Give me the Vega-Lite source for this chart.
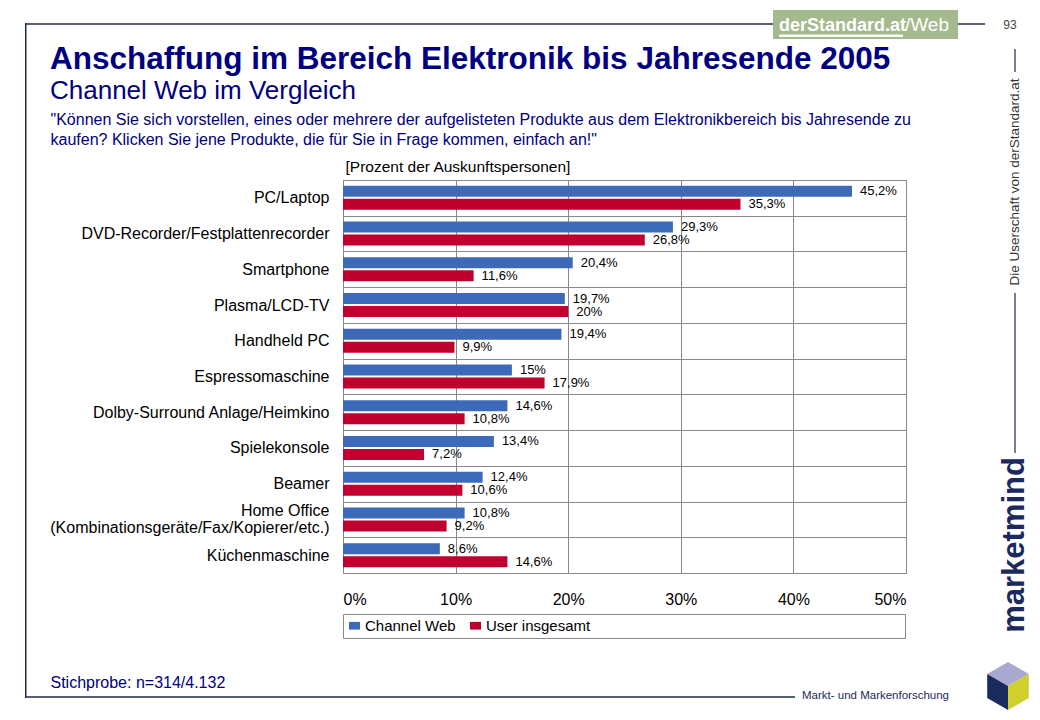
{
  "$schema": "https://vega.github.io/schema/vega-lite/v6.json",
  "width": 563,
  "height": 393,
  "autosize": {"type": "none"},
  "padding": {"left": 343, "top": 180, "right": 134, "bottom": 147},
  "background": "white",
  "title": {
    "text": "Anschaffung im Bereich Elektronik bis Jahresende 2005",
    "subtitle": "Channel Web im Vergleich",
    "anchor": "start",
    "frame": "group",
    "dx": -293,
    "dy": 94,
    "offset": 0,
    "font": "Liberation Sans",
    "fontSize": 31.5,
    "fontWeight": "bold",
    "color": "#000080",
    "subtitleFont": "Liberation Sans",
    "subtitleFontSize": 26,
    "subtitleColor": "#000080",
    "subtitlePadding": 3
  },
  "data": {
    "values": [
      {"Produkt": "PC/Laptop", "Serie": "Channel Web", "Wert": 0.452},
      {"Produkt": "PC/Laptop", "Serie": "User insgesamt", "Wert": 0.353},
      {"Produkt": "DVD-Recorder/Festplattenrecorder", "Serie": "Channel Web", "Wert": 0.293},
      {"Produkt": "DVD-Recorder/Festplattenrecorder", "Serie": "User insgesamt", "Wert": 0.268},
      {"Produkt": "Smartphone", "Serie": "Channel Web", "Wert": 0.204},
      {"Produkt": "Smartphone", "Serie": "User insgesamt", "Wert": 0.116},
      {"Produkt": "Plasma/LCD-TV", "Serie": "Channel Web", "Wert": 0.197},
      {"Produkt": "Plasma/LCD-TV", "Serie": "User insgesamt", "Wert": 0.2},
      {"Produkt": "Handheld PC", "Serie": "Channel Web", "Wert": 0.194},
      {"Produkt": "Handheld PC", "Serie": "User insgesamt", "Wert": 0.099},
      {"Produkt": "Espressomaschine", "Serie": "Channel Web", "Wert": 0.15},
      {"Produkt": "Espressomaschine", "Serie": "User insgesamt", "Wert": 0.179},
      {"Produkt": "Dolby-Surround Anlage/Heimkino", "Serie": "Channel Web", "Wert": 0.146},
      {"Produkt": "Dolby-Surround Anlage/Heimkino", "Serie": "User insgesamt", "Wert": 0.108},
      {"Produkt": "Spielekonsole", "Serie": "Channel Web", "Wert": 0.134},
      {"Produkt": "Spielekonsole", "Serie": "User insgesamt", "Wert": 0.072},
      {"Produkt": "Beamer", "Serie": "Channel Web", "Wert": 0.124},
      {"Produkt": "Beamer", "Serie": "User insgesamt", "Wert": 0.106},
      {"Produkt": "Home Office (Kombinationsgeräte/Fax/Kopierer/etc.)", "Serie": "Channel Web", "Wert": 0.108},
      {"Produkt": "Home Office (Kombinationsgeräte/Fax/Kopierer/etc.)", "Serie": "User insgesamt", "Wert": 0.092},
      {"Produkt": "Küchenmaschine", "Serie": "Channel Web", "Wert": 0.086},
      {"Produkt": "Küchenmaschine", "Serie": "User insgesamt", "Wert": 0.146}
    ]
  },
  "layer": [
    {
      "mark": {"type": "bar"},
      "encoding": {
        "y": {
          "field": "Produkt", "type": "nominal", "sort": null,
          "scale": {"paddingInner": 0, "paddingOuter": 0},
          "axis": {
            "title": ["\"Können Sie sich vorstellen, eines oder mehrere der aufgelisteten Produkte aus dem Elektronikbereich bis Jahresende zu", "kaufen? Klicken Sie jene Produkte, die für Sie in Frage kommen, einfach an!\""],
            "titleAngle": 0, "titleAlign": "left", "titleBaseline": "alphabetic",
            "titleX": -293, "titleY": -56, "titleLineHeight": 20,
            "titleFontSize": 16, "titleFontWeight": "normal", "titleColor": "#000080",
            "labelExpr": "datum.value == 'Home Office (Kombinationsgeräte/Fax/Kopierer/etc.)' ? ['Home Office', '(Kombinationsgeräte/Fax/Kopierer/etc.)'] : datum.label",
            "labelOffset": {"condition": {"test": "datum.value == 'Home Office (Kombinationsgeräte/Fax/Kopierer/etc.)'", "value": -9}, "value": 0},
            "labelFontSize": 16, "labelColor": "#000000", "labelPadding": 14, "labelLimit": 400, "labelLineHeight": 17,
            "ticks": false, "domain": false, "grid": true, "tickBand": "extent", "gridColor": "#888888", "gridWidth": 1
          }
        },
        "yOffset": {"field": "Serie", "type": "nominal", "sort": ["Channel Web", "User insgesamt"], "scale": {"paddingInner": 0.154, "paddingOuter": 0.45}},
        "x": {
          "field": "Wert", "type": "quantitative",
          "scale": {"domain": [0, 0.5], "nice": false},
          "axis": {
            "orient": "bottom", "values": [0, 0.1, 0.2, 0.3, 0.4, 0.5], "format": ".0%",
            "labelFontSize": 16, "labelColor": "#000000", "labelPadding": 18, "ticks": false, "domain": false,
            "grid": true, "gridColor": "#888888", "gridWidth": 1,
            "title": "Stichprobe: n=314/4.132", "titleX": -293, "titleY": 114, "titleAlign": "left", "titleBaseline": "alphabetic",
            "titleFontSize": 16, "titleFontWeight": "normal", "titleColor": "#000080"
          }
        },
        "color": {
          "field": "Serie", "type": "nominal",
          "scale": {"domain": ["Channel Web", "User insgesamt"], "range": ["#3C6AB8", "#C0002E"]},
          "legend": {
            "title": null, "orient": "none", "legendX": 0, "legendY": 434, "direction": "horizontal",
            "strokeColor": "#888888", "padding": 4, "symbolType": "M-1,-0.7H1V0.7H-1Z", "symbolSize": 121,
            "symbolStrokeWidth": 0, "symbolOpacity": 1, "labelFontSize": 15, "labelColor": "#000000", "labelOffset": 3,
            "columnPadding": 12, "labelLimit": 700,
            "labelExpr": "datum.label == 'User insgesamt' ? datum.label + '\u2003\u2003\u2003\u2003\u2003\u2003\u2003\u2003\u2003\u2003\u2003\u2003\u2003\u2003\u2003\u2003\u2003\u2003\u2003\u2003\u2002\u2009\u200B' : datum.label"
          }
        }
      }
    },
    {
      "mark": {"type": "text", "align": "left", "baseline": "middle", "dx": 8, "fontSize": 13, "color": "#000000"},
      "encoding": {
        "y": {
          "field": "Produkt", "type": "nominal", "sort": null,
          "scale": {"paddingInner": 0, "paddingOuter": 0},
          "axis": {
            "title": ["\"Können Sie sich vorstellen, eines oder mehrere der aufgelisteten Produkte aus dem Elektronikbereich bis Jahresende zu", "kaufen? Klicken Sie jene Produkte, die für Sie in Frage kommen, einfach an!\""],
            "titleAngle": 0, "titleAlign": "left", "titleBaseline": "alphabetic",
            "titleX": -293, "titleY": -56, "titleLineHeight": 20,
            "titleFontSize": 16, "titleFontWeight": "normal", "titleColor": "#000080",
            "labelExpr": "datum.value == 'Home Office (Kombinationsgeräte/Fax/Kopierer/etc.)' ? ['Home Office', '(Kombinationsgeräte/Fax/Kopierer/etc.)'] : datum.label",
            "labelOffset": {"condition": {"test": "datum.value == 'Home Office (Kombinationsgeräte/Fax/Kopierer/etc.)'", "value": -9}, "value": 0},
            "labelFontSize": 16, "labelColor": "#000000", "labelPadding": 14, "labelLimit": 400, "labelLineHeight": 17,
            "ticks": false, "domain": false, "grid": true, "tickBand": "extent", "gridColor": "#888888", "gridWidth": 1
          }
        },
        "yOffset": {"field": "Serie", "type": "nominal", "sort": ["Channel Web", "User insgesamt"], "scale": {"paddingInner": 0.154, "paddingOuter": 0.45}},
        "x": {
          "field": "Wert", "type": "quantitative",
          "scale": {"domain": [0, 0.5], "nice": false},
          "axis": {
            "orient": "top", "labels": false, "ticks": false, "domain": false, "grid": false,
            "title": "[Prozent der Auskunftspersonen]", "titleX": 2, "titleY": -9, "titleAlign": "left", "titleBaseline": "alphabetic",
            "titleFontSize": 15.5, "titleFontWeight": "normal", "titleColor": "#000000"
          }
        },
        "text": {"field": "Wert", "type": "quantitative", "format": ".1~%"}
      }
    },
    {
      "data": {"values": [{}]},
      "mark": {"type": "rect", "x": -318, "x2": -316.5, "y": -156.75, "y2": 517.75, "color": "#1F2A44"},
      "encoding": {}
    },
    {
      "data": {"values": [{}]},
      "mark": {"type": "rect", "x": -318, "x2": 430, "y": -156.75, "y2": -155.25, "color": "#1F2A44"},
      "encoding": {}
    },
    {
      "data": {"values": [{}]},
      "mark": {"type": "rect", "x": 615, "x2": 642, "y": -156.75, "y2": -155.25, "color": "#1F2A44"},
      "encoding": {}
    },
    {
      "data": {"values": [{}]},
      "mark": {"type": "rect", "x": -318, "x2": 452, "y": 516.25, "y2": 517.75, "color": "#1F2A44"},
      "encoding": {}
    },
    {
      "data": {"values": [{}]},
      "mark": {"type": "rect", "x": 671.4, "x2": 672.6, "y": -131, "y2": -108, "color": "#1F2A44"},
      "encoding": {}
    },
    {
      "data": {"values": [{}]},
      "mark": {"type": "rect", "x": 671.4, "x2": 672.6, "y": 113, "y2": 273, "color": "#1F2A44"},
      "encoding": {}
    },
    {
      "data": {"values": [{}]},
      "mark": {"type": "rect", "x": 430, "x2": 615, "y": -170, "y2": -141, "color": "#A4B98E"},
      "encoding": {}
    },
    {
      "data": {"values": [{}]},
      "mark": {"type": "rect", "x": 436, "x2": 560, "y": -145.5, "y2": -143, "color": "#FFFFFF"},
      "encoding": {}
    },
    {
      "data": {"values": [{}]},
      "mark": {"type": "text", "x": 436, "y": -149, "align": "left", "baseline": "alphabetic", "text": "derStandard.at", "fontSize": 18, "fontWeight": "bold", "color": "#FFFFFF"},
      "encoding": {}
    },
    {
      "data": {"values": [{}]},
      "mark": {"type": "text", "x": 562, "y": -149, "align": "left", "baseline": "alphabetic", "text": "/Web", "fontSize": 19, "color": "#FFFFFF"},
      "encoding": {}
    },
    {
      "data": {"values": [{}]},
      "mark": {"type": "text", "x": 667, "y": -151, "align": "center", "baseline": "alphabetic", "text": "93", "fontSize": 12, "color": "#444444"},
      "encoding": {}
    },
    {
      "data": {"values": [{}]},
      "mark": {"type": "text", "x": 672, "y": 2, "align": "center", "baseline": "middle", "angle": 270, "text": "Die Userschaft von derStandard.at", "fontSize": 13.5, "color": "#333333"},
      "encoding": {}
    },
    {
      "data": {"values": [{}]},
      "mark": {"type": "text", "x": 672, "y": 365, "align": "center", "baseline": "middle", "angle": 270, "text": "marketmind", "fontSize": 31, "fontWeight": "bold", "color": "#1B2A5C"},
      "encoding": {}
    },
    {
      "data": {"values": [{}]},
      "mark": {"type": "text", "x": 459, "y": 519, "align": "left", "baseline": "alphabetic", "text": "Markt- und Markenforschung", "fontSize": 11.5, "color": "#1B2A5C"},
      "encoding": {}
    },
    {
      "data": {"values": [{}]},
      "mark": {"type": "point", "x": 665, "y": 506, "size": 2304, "filled": true, "opacity": 1, "strokeWidth": 0, "color": "#A9A9D0", "shape": "M0,-1L0.866,-0.5L0,0L-0.866,-0.5Z"},
      "encoding": {}
    },
    {
      "data": {"values": [{}]},
      "mark": {"type": "point", "x": 665, "y": 506, "size": 2304, "filled": true, "opacity": 1, "strokeWidth": 0, "color": "#1B2A5C", "shape": "M-0.866,-0.5L0,0L0,1L-0.866,0.5Z"},
      "encoding": {}
    },
    {
      "data": {"values": [{}]},
      "mark": {"type": "point", "x": 665, "y": 506, "size": 2304, "filled": true, "opacity": 1, "strokeWidth": 0, "color": "#CFCF2E", "shape": "M0.866,-0.5L0.866,0.5L0,1L0,0Z"},
      "encoding": {}
    }
  ],
  "resolve": {"axis": {"x": "independent"}},
  "config": {
    "font": "Liberation Sans",
    "view": {"stroke": "#888888", "strokeWidth": 1},
    "locale": {"number": {"decimal": ",", "thousands": ".", "grouping": [3], "currency": ["", " €"]}}
  }
}
